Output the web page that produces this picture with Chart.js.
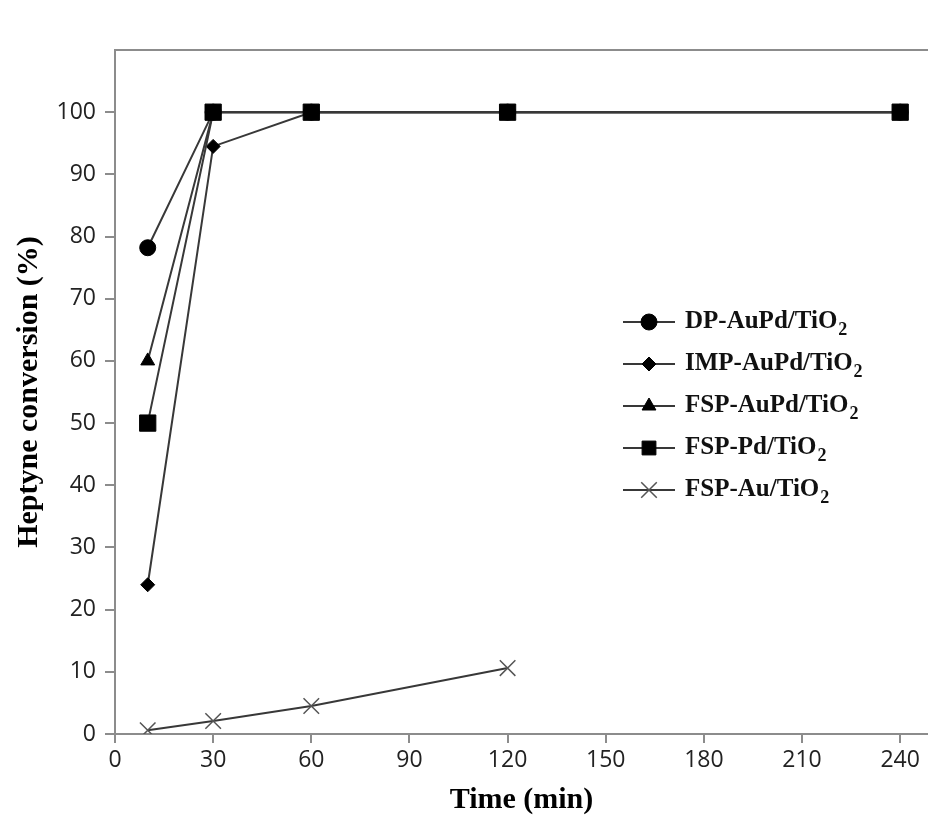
<!DOCTYPE html>
<html>
<head>
<meta charset="utf-8">
<script src="https://cdn.jsdelivr.net/npm/chart.js@4.4.1/dist/chart.umd.min.js"></script>
<style>
  html, body { margin: 0; background: #fff; }
  #wrap { width: 928px; height: 816px; }
</style>
</head>
<body>
<div id="wrap"><canvas id="chart" width="928" height="816"></canvas></div>
<script>
// ── Data ──
const timeMin   = [10, 30, 60, 120, 240];
const timeAu    = [10, 30, 60, 120];
const dpAuPd    = [78.2, 100, 100, 100, 100];
const impAuPd   = [24, 94.5, 100, 100, 100];
const fspAuPd   = [60, 100, 100, 100, 100];
const fspPd     = [50, 100, 100, 100, 100];
const fspAu     = [0.6, 2.1, 4.5, 10.6];
const labels    = ["DP-AuPd/TiO₂", "IMP-AuPd/TiO₂", "FSP-AuPd/TiO₂", "FSP-Pd/TiO₂", "FSP-Au/TiO₂"];
const xTicks    = [0, 30, 60, 90, 120, 150, 180, 210, 240];
const yTicks    = [0, 10, 20, 30, 40, 50, 60, 70, 80, 90, 100];

const AXIS = "#8c8c8c";
const LINE = "#383838";
const SERIF = "'Liberation Serif', 'Times New Roman', serif";

const pts = (xs, ys) => ys.map((y, i) => ({ x: xs[i], y }));

function series(label, xs, ys, style, radius, order, extra = {}) {
  return Object.assign({
    label,
    data: pts(xs, ys),
    borderColor: LINE,
    borderWidth: 2,
    pointStyle: style,
    pointRadius: radius,
    pointHoverRadius: radius,
    pointBackgroundColor: "#000",
    pointBorderColor: "#000",
    pointBorderWidth: 1,
    order
  }, extra);
}

// ── Legend drawn by hand (needs subscript) ──
const legendBox = { x: 623, y: 322, gap: 42, lineLen: 52, textGap: 10 };

const legendPlugin = {
  id: "subLegend",
  afterDraw(chart) {
    const ctx = chart.ctx;
    chart.data.datasets.forEach((ds, i) => {
      const y = legendBox.y + i * legendBox.gap;
      const x0 = legendBox.x, x1 = x0 + legendBox.lineLen;
      ctx.save();
      ctx.strokeStyle = ds.borderColor;
      ctx.lineWidth = ds.borderWidth;
      ctx.beginPath();
      ctx.moveTo(x0, y); ctx.lineTo(x1, y);
      ctx.stroke();
      ctx.fillStyle = ds.pointBackgroundColor;
      ctx.strokeStyle = ds.pointBorderColor;
      ctx.lineWidth = ds.pointBorderWidth;
      Chart.helpers.drawPoint(ctx, {
        pointStyle: ds.pointStyle,
        radius: ds.pointRadius * (ds.pointStyle === "rect" ? 0.85 : 1),
        rotation: 0,
        borderWidth: ds.pointBorderWidth
      }, (x0 + x1) / 2, y);

      const [main] = ds.label.split("₂");
      ctx.fillStyle = "#111";
      ctx.textBaseline = "middle";
      ctx.textAlign = "left";
      ctx.font = "bold 25px " + SERIF;
      const tx = x1 + legendBox.textGap;
      ctx.fillText(main, tx, y);
      const w = ctx.measureText(main).width;
      ctx.font = "bold 18px " + SERIF;
      ctx.fillText("2", tx + w + 1, y + 8);
      ctx.restore();
    });
  }
};

const topBorder = {
  id: "topBorder",
  beforeDatasetsDraw(chart) {
    const { ctx, chartArea: a } = chart;
    ctx.save();
    ctx.strokeStyle = AXIS;
    ctx.lineWidth = 2;
    ctx.beginPath();
    ctx.moveTo(a.left, a.top); ctx.lineTo(a.right, a.top);
    ctx.stroke();
    ctx.restore();
  }
};

new Chart(document.getElementById("chart"), {
  type: "line",
  data: {
    datasets: [
      series(labels[0], timeMin, dpAuPd, "circle", 8, 1),
      series(labels[1], timeMin, impAuPd, "rectRot", 7, 2),
      series(labels[2], timeMin, fspAuPd, "triangle", 8, 2),
      series(labels[3], timeMin, fspPd, "rect", 11.5, 0),
      series(labels[4], timeAu, fspAu, "crossRot", 11, 3, {
        pointBorderColor: "#555", pointBorderWidth: 1.5
      })
    ]
  },
  options: {
    responsive: false,
    animation: false,
    devicePixelRatio: 1,
    layout: { autoPadding: false, padding: { top: 50, left: 0, right: 0, bottom: 0 } },
    plugins: { legend: { display: false }, tooltip: { enabled: false } },
    scales: {
      x: {
        type: "linear",
        min: 0,
        max: 248.5,
        afterBuildTicks: s => { s.ticks = xTicks.map(v => ({ value: v })); },
        afterFit: s => { s.height = 82; },
        grid: { drawOnChartArea: false, color: AXIS, lineWidth: 2, tickLength: 9 },
        border: { color: AXIS, width: 2 },
        ticks: { color: "#222", padding: 4, font: { family: "'Open Sans'", size: 23 } },
        title: {
          display: true, text: "Time (min)", color: "#000",
          font: { family: SERIF, size: 30, weight: "bold", lineHeight: 1.2 },
          padding: { top: 0, bottom: -2 }
        }
      },
      y: {
        min: 0,
        max: 110,
        afterBuildTicks: s => { s.ticks = yTicks.map(v => ({ value: v })); },
        afterFit: s => { s.width = 115; },
        grid: { drawOnChartArea: false, color: AXIS, lineWidth: 2, tickLength: 10 },
        border: { color: AXIS, width: 2 },
        ticks: { color: "#222", padding: 9, font: { family: "'Open Sans'", size: 23 } },
        title: {
          display: true, text: "Heptyne conversion (%)", color: "#000",
          font: { family: SERIF, size: 30, weight: "bold", lineHeight: 1.2 },
          padding: { top: 11, bottom: 0 }
        }
      }
    }
  },
  plugins: [topBorder, legendPlugin]
});
</script>
</body>
</html>
